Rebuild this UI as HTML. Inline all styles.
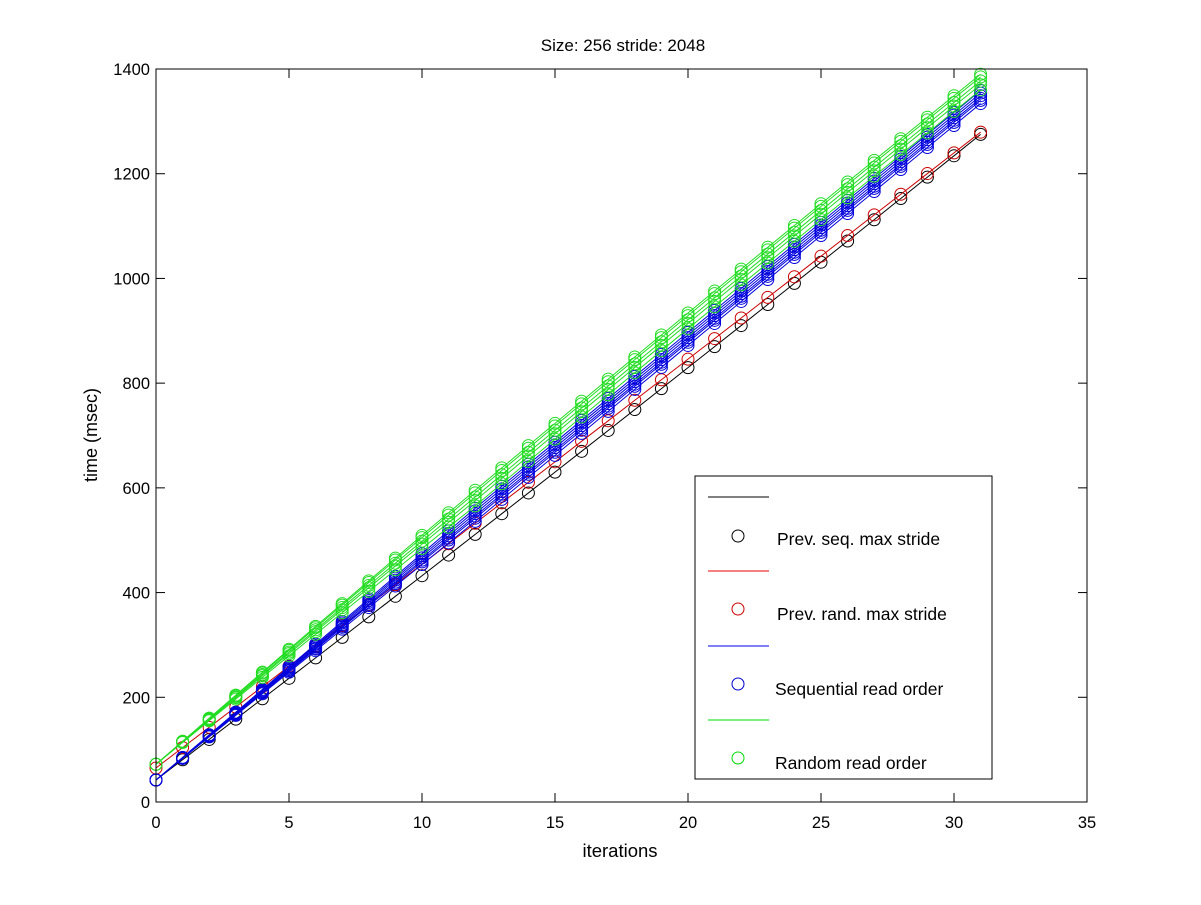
<!DOCTYPE html>
<html><head><meta charset="utf-8"><style>
body{margin:0;background:#fff;}
svg text{font-family:"Liberation Sans",sans-serif;}
</style></head><body>
<svg id="s" width="1201" height="900" xmlns="http://www.w3.org/2000/svg">
<rect width="1201" height="900" fill="#fff"/>
<g id="data"></g>
<rect x="156" y="69" width="931" height="733" fill="none" stroke="#000" stroke-width="1"/>
<g id="ticks" stroke="#000"></g>
<g id="lbl" font-size="16.5" fill="#000"></g>
<text x="623" y="51" font-size="17" text-anchor="middle">Size: 256 stride: 2048</text>
<text x="620" y="857" font-size="18.5" text-anchor="middle">iterations</text>
<text transform="translate(97,435) rotate(-90)" font-size="18" text-anchor="middle">time (msec)</text>
<g>
<rect x="695" y="476" width="297" height="303" fill="#fff" stroke="#000"/>
<line x1="708" y1="497" x2="769" y2="497" stroke="#000"/>
<circle cx="738" cy="536" r="6" fill="none" stroke="#000"/>
<text x="777" y="545" font-size="17.5">Prev. seq. max stride</text>
<line x1="708" y1="571" x2="769" y2="571" stroke="#e00"/>
<circle cx="738" cy="609" r="6" fill="none" stroke="#c00"/>
<text x="777" y="620" font-size="17.5">Prev. rand. max stride</text>
<line x1="708" y1="646" x2="769" y2="646" stroke="#00e"/>
<circle cx="738" cy="684" r="6" fill="none" stroke="#00c"/>
<text x="775" y="695" font-size="17.5">Sequential read order</text>
<line x1="708" y1="720" x2="769" y2="720" stroke="#0d0"/>
<circle cx="738" cy="758" r="6" fill="none" stroke="#0d0"/>
<text x="775" y="769" font-size="17.5">Random read order</text>
</g>
</svg>
<script>
var NS="http://www.w3.org/2000/svg";
function X(v){return 156+v*931/35;}
function Y(v){return 802-v*733/1400;}
function el(p,n,a){var e=document.createElementNS(NS,n);for(var k in a)e.setAttribute(k,a[k]);p.appendChild(e);return e;}
var tk=document.getElementById("ticks"),lb=document.getElementById("lbl");
for(var i=0;i<=35;i+=5){var x=X(i);el(tk,"line",{x1:x,y1:802,x2:x,y2:793});el(tk,"line",{x1:x,y1:69,x2:x,y2:78});
var t=el(lb,"text",{x:x,y:828,"text-anchor":"middle"});t.textContent=i;}
for(var v=0;v<=1400;v+=200){var y=Y(v);el(tk,"line",{x1:156,y1:y,x2:165,y2:y});el(tk,"line",{x1:1087,y1:y,x2:1078,y2:y});
var t=el(lb,"text",{x:150,y:y+6,"text-anchor":"end"});t.textContent=v;}
var d=document.getElementById("data");
function series(col,a,b,c,off){var pts=[];for(var i=0;i<32;i++){var v=a+b*i+c*i*i+off*Math.min(1,i/12);pts.push([X(i),Y(v)]);}
el(d,"polyline",{points:pts.map(p=>p.join(",")).join(" "),fill:"none",stroke:col,"stroke-width":1});
pts.forEach(p=>el(d,"circle",{cx:p[0],cy:p[1],r:6,fill:"none",stroke:col,"stroke-width":1}));}
series("#000",42,38.66,0.036,0);
series("#c00",65,38.8,0.012,0);
[-10,-4,0,5,10,15].forEach(o=>series("#00d",42,42,0.0,o));
[-25,-15,-8,0,5].forEach(o=>series("#2d2",72,43.75,-0.045,o));
</script>
</body></html>
